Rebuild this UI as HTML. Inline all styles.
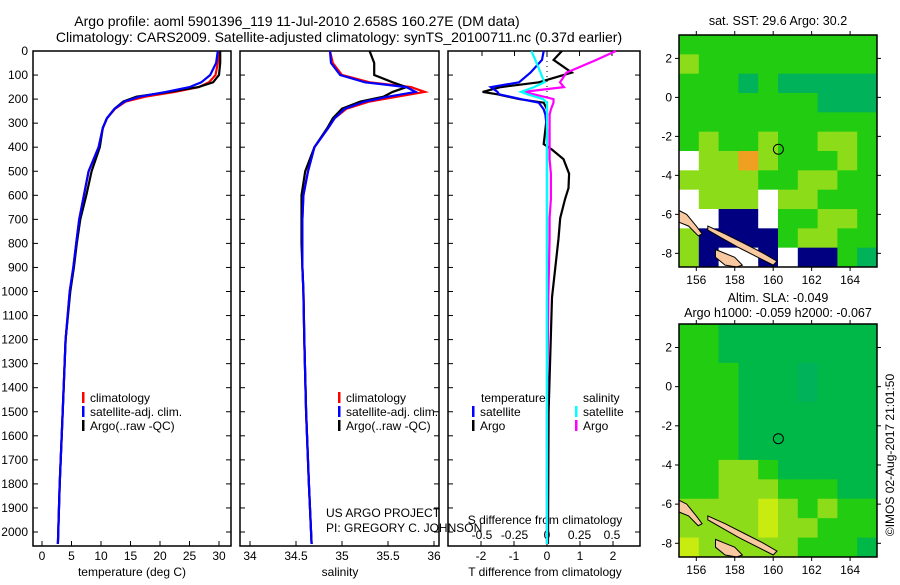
<!DOCTYPE html>
<html><head><meta charset="utf-8"><style>
body{margin:0;background:#fff}
svg text{font-family:"Liberation Sans",sans-serif;font-size:12px;fill:#000}
svg text.big{font-size:14px}
</style></head><body>
<svg id="c" width="900" height="580" xmlns="http://www.w3.org/2000/svg">
<text class="big" x="297" y="26" text-anchor="middle">Argo profile: aoml 5901396_119 11-Jul-2010 2.658S 160.27E (DM data)</text>
<text class="big" x="339" y="42" text-anchor="middle">Climatology: CARS2009. Satellite-adjusted climatology: synTS_20100711.nc (0.37d earlier)</text>
<text x="778" y="25" text-anchor="middle" style="font-size:12.5px">sat. SST: 29.6 Argo: 30.2</text>
<text x="778" y="302" text-anchor="middle" style="font-size:12.5px">Altim. SLA: -0.049</text>
<text x="778" y="317" text-anchor="middle" style="font-size:12.5px">Argo h1000: -0.059 h2000: -0.067</text>
<text transform="translate(894,455) rotate(-90)" text-anchor="middle">©IMOS 02-Aug-2017 21:01:50</text>
</svg>
<script>
// ---- data ----
const depths=[0,50,100,130,150,170,190,210,240,280,320,400,500,600,700,800,900,1000,1200,1500,1800,2050];
const tempClim=[29.9,29.8,29.4,28.3,26.6,22.5,17.5,14.2,12.4,11.0,10.3,9.6,7.9,7.1,6.3,5.8,5.3,4.7,4.0,3.5,3.0,2.7];
const tempSat=[29.8,29.5,28.5,27.0,25.0,21.0,16.5,14.0,12.3,11.0,10.3,9.6,7.9,7.1,6.3,5.8,5.3,4.7,4.0,3.5,3.0,2.7];
const tempArgo=[30.2,30.2,30.0,29.0,26.5,21.5,16.0,13.8,12.3,11.0,10.3,9.8,8.4,7.5,6.5,5.9,5.4,4.8,4.0,3.5,3.0,2.7];
const salClim=[34.87,34.9,35.0,35.3,35.75,35.9,35.6,35.3,35.05,34.92,34.85,34.7,34.63,34.58,34.57,34.57,34.57,34.58,34.59,34.61,34.64,34.67];
const salSat=[34.87,34.88,34.98,35.25,35.7,35.8,35.5,35.25,35.03,34.92,34.85,34.7,34.63,34.58,34.57,34.57,34.57,34.58,34.59,34.61,34.64,34.67];
const salArgo=[35.3,35.35,35.35,35.55,35.7,35.55,35.45,35.2,35.0,34.9,34.84,34.7,34.6,34.56,34.56,34.56,34.57,34.58,34.59,34.61,34.64,34.67];
const diffDepths=[0,37,90,130,150,170,180,200,215,243,265,325,387,410,450,510,570,615,695,780,1025,1500,2050];
const dTsat=[-0.1,-0.15,-0.5,-0.85,-1.7,-1.5,-1.45,-0.8,-0.25,-0.1,-0.05,0,0,0,0,0,0,0,0,0,0,0,0];
const dTargo=[0.45,0.2,0.75,-0.25,-1.4,-1.95,-1.5,-0.85,-0.1,0,0,-0.05,-0.1,0.15,0.5,0.67,0.65,0.55,0.4,0.35,0.15,0.05,0.03];
const dSsat=[-0.12,-0.09,-0.05,-0.02,-0.1,-0.2,-0.15,-0.03,0,0,0,0,0,0,0,0,0,0,0,0,0,0,0];
const dSargo=[0.53,0.38,0.15,0.1,0.13,-0.18,-0.1,0.05,0.05,0.03,0.02,0.02,0.02,0.02,0.02,0.03,0.03,0.03,0.02,0.02,0.01,0.0,0.0];
const depthTicks=[0,100,200,300,400,500,600,700,800,900,1000,1100,1200,1300,1400,1500,1600,1700,1800,1900,2000];
const tempTicks=[0,5,10,15,20,25,30];
const salTicks=[34,34.5,35,35.5,36];
const dTTicks=[-2,-1,0,1,2];
const dSTicks=[-0.5,-0.25,0,0.25,0.5];
const lonTicks=[156,158,160,162,164];
const latTicks=[2,0,-2,-4,-6,-8];
const sstGrid=[
[0,0,0,0,0,0,0,0,0,0],[1,0,0,0,0,0,0,0,0,0],[0,0,0,2,0,2,2,2,2,2],[0,0,0,0,0,0,0,2,2,2],
[0,0,0,0,0,0,0,0,0,0],[0,1,0,0,1,0,0,1,1,0],[3,1,1,5,1,0,0,0,1,0],[1,1,1,1,0,0,1,1,0,0],
[3,1,1,1,3,1,1,0,0,0],[3,3,4,4,3,0,0,1,1,0],[1,4,4,4,4,0,1,1,0,0],[1,4,3,3,4,3,4,4,0,2]];
const slaGrid=[
[0,0,6,6,6,6,6,6,6,6],[0,0,6,6,6,6,6,6,6,6],[0,0,0,6,6,6,2,6,6,6],[0,0,0,6,6,6,2,6,6,6],
[0,0,0,6,6,6,6,6,6,6],[0,0,0,6,6,6,6,6,6,6],[0,0,0,6,6,6,6,6,6,6],[0,0,1,1,0,6,6,6,6,6],
[0,0,1,1,1,0,0,0,6,6],[1,1,1,1,7,1,0,1,0,0],[1,1,1,1,7,1,1,0,0,0],[7,1,1,1,1,1,0,0,0,6]];
const argoLon=160.27, argoLat=-2.658;
const island1Lon=[155.1,155.5,156.0,156.3,156.1,155.6,155.1];
const island1Lat=[-5.8,-6.0,-6.6,-7.0,-7.1,-6.6,-6.4];
const island2Lon=[156.6,157.5,158.5,159.5,160.2,160.0,159.2,158.2,157.3,156.6];
const island2Lat=[-6.6,-7.0,-7.5,-8.0,-8.4,-8.6,-8.2,-7.7,-7.2,-6.8];
const island3Lon=[157.0,157.5,158.0,158.4,158.1,157.5,157.0];
const island3Lat=[-7.8,-8.0,-8.2,-8.6,-8.7,-8.6,-8.2];

// ---- helpers ----
const NS='http://www.w3.org/2000/svg', svg=document.getElementById('c');
function mk(tag,at,parent){const e=document.createElementNS(NS,tag);for(const k in at)e.setAttribute(k,at[k]);(parent||svg).appendChild(e);return e;}
const yTop=51,yBot=546;
const yD=d=>yTop+d*0.2405;
const xT=t=>42+t*5.9;
const xS=s=>296+(s-34.5)*92;
const xDT=t=>547+t*33;
const xDS=s=>547+s*130;
function frame(x0,x1,name){const r=mk('rect',{x:x0,y:yTop,width:x1-x0,height:yBot-yTop,fill:'none',stroke:'#000','stroke-width':1.5});

depthTicks.forEach(d=>{mk('line',{x1:x0,x2:x0+5,y1:yD(d),y2:yD(d),stroke:'#000'});mk('line',{x1:x1,x2:x1-5,y1:yD(d),y2:yD(d),stroke:'#000'});});}
function line(xs,ys,fx,col,name){const pts=xs.map((v,i)=>fx(v).toFixed(1)+','+yD(ys[i]).toFixed(1)).join(' ');
const p=mk('polyline',{points:pts,fill:'none',stroke:col,'stroke-width':2.2});
}
function txt(x,y,s,anchor,name){const t=mk('text',{x:x,y:y,'text-anchor':anchor||'start'});t.textContent=s;
return t;}

// panels
frame(33,231,'temperature-panel');frame(240,439,'salinity-panel');frame(448,640,'difference-panel');
depthTicks.forEach(d=>{txt(28,yD(d)+4,String(d),'end','y-tick-label');});
tempTicks.forEach(t=>{mk('line',{x1:xT(t),x2:xT(t),y1:yBot,y2:yBot-5,stroke:'#000'});txt(xT(t),560,String(t),'middle','x-tick-temp');});
txt(132,576,'temperature (deg C)','middle','x-axis-title-temp');
salTicks.forEach(s=>{mk('line',{x1:xS(s),x2:xS(s),y1:yBot,y2:yBot-5,stroke:'#000'});txt(xS(s),560,String(s),'middle','x-tick-sal');});
txt(340,576,'salinity','middle','x-axis-title-sal');
dTTicks.forEach(s=>{mk('line',{x1:xDT(s),x2:xDT(s),y1:yBot,y2:yBot-5,stroke:'#000'});txt(xDT(s),560,String(s),'middle','x-tick-dT');});
dSTicks.forEach(s=>{mk('line',{x1:xDS(s),x2:xDS(s),y1:yTop,y2:yTop+5,stroke:'#000'});txt(xDS(s),539,String(s),'middle','x-tick-dS');});
txt(545,576,'T difference from climatology','middle','x-axis-title-dT');
txt(545,524,'S difference from climatology','middle','x-axis-title-dS');
mk('line',{x1:547,x2:547,y1:yTop,y2:yBot,stroke:'#000','stroke-dasharray':'1,4'});

line(tempClim,depths,xT,'#f00','temp-climatology');line(tempArgo,depths,xT,'#000','temp-argo');line(tempSat,depths,xT,'#00f','temp-satellite');
line(salClim,depths,xS,'#f00','sal-climatology');line(salArgo,depths,xS,'#000','sal-argo');line(salSat,depths,xS,'#00f','sal-satellite');
line(dTargo,diffDepths,xDT,'#000','dT-argo');line(dSargo,diffDepths,xDS,'#f0f','dS-argo');
line(dTsat,diffDepths,xDT,'#00f','dT-satellite');line(dSsat,diffDepths,xDS,'#0ff','dS-satellite');

function legend(x,y,items,pfx){items.forEach((it,i)=>{mk('rect',{x:x,y:y+i*14-10,width:2.5,height:11,fill:it[1]});txt(x+8,y+i*14,it[0],'start',pfx+'-legend-entry');});}
legend(82,402,[['climatology','#f00'],['satellite-adj. clim.','#00f'],['Argo(..raw -QC)','#000']],'temp');
legend(338,402,[['climatology','#f00'],['satellite-adj. clim.','#00f'],['Argo(..raw -QC)','#000']],'sal');
txt(481,402,'temperature','start','legend-header-temperature');txt(583,402,'salinity','start','legend-header-salinity');
legend(472,416,[['satellite','#00f'],['Argo','#000']],'dT');
legend(575,416,[['satellite','#0ff'],['Argo','#f0f']],'dS');
txt(326,517,'US ARGO PROJECT','start','credit-project');
txt(326,532,'PI: GREGORY C. JOHNSON','start','credit-pi');

// maps
const colors=['#22cc11','#8cdc1a','#00b25a','#ffffff','#000080','#f0a020','#00b848','#c8ec10'];
function map(y0,y1,grid,latAt0,name){
 const x0=679,x1=877,lonL=155.1,lonR=165.4,latT=3.2,latB=-8.7;
 const fx=l=>x0+(l-lonL)/(lonR-lonL)*(x1-x0);
 const fy=l=>y0+(latT-l)/(latT-latB)*(y1-y0);
 const g=mk('g',{});
 const rows=grid.length,cols=grid[0].length,cw=(x1-x0)/cols,ch=(y1-y0)/rows;
 grid.forEach((r,i)=>r.forEach((v,j)=>{const c=mk('rect',{x:x0+j*cw,y:y0+i*ch,width:cw+0.5,height:ch+0.5,fill:colors[v]},g);
  }));
 [[island1Lon,island1Lat],[island2Lon,island2Lat],[island3Lon,island3Lat]].forEach(([lo,la])=>{
  const p=mk('polygon',{points:lo.map((v,i)=>fx(v).toFixed(1)+','+fy(la[i]).toFixed(1)).join(' '),fill:'#f8c8a0',stroke:'#000','stroke-width':1},g);
  });
 const c=mk('circle',{cx:fx(argoLon),cy:fy(argoLat),r:5,fill:'none',stroke:'#000','stroke-width':1},g);
 
 mk('rect',{x:x0,y:y0,width:x1-x0,height:y1-y0,fill:'none',stroke:'#000','stroke-width':1.5});
 lonTicks.forEach(l=>{mk('line',{x1:fx(l),x2:fx(l),y1:y0,y2:y0-4,stroke:'#000'});mk('line',{x1:fx(l),x2:fx(l),y1:y1,y2:y1+4,stroke:'#000'});
  txt(fx(l),y1+17,String(l),'middle','map-lon-label');});
 latTicks.forEach(l=>{mk('line',{x1:x0,x2:x0-4,y1:fy(l),y2:fy(l),stroke:'#000'});mk('line',{x1:x1,x2:x1+4,y1:fy(l),y2:fy(l),stroke:'#000'});
  txt(x0-7,fy(l)+4,String(l),'end','map-lat-label');});
}
map(35,267,sstGrid,0,'sst-map');
map(324,557,slaGrid,0,'sla-map');
</script>
</body></html>
